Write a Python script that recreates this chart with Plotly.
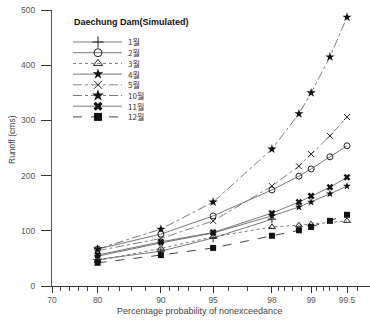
import plotly.graph_objects as go
from statistics import NormalDist

# ---------------- data ----------------
months = ["1월", "2월", "3월", "4월", "5월", "10월", "11월", "12월"]
p_full = [80, 90, 95, 98, 98.75, 99, 99.3, 99.5]
p_jan = [80, 90, 95, 98]
p_mar = [80, 90, 95, 98, 98.75, 99, 99.5]

runoff_jan = [48, 63, 87, 121]
runoff_feb = [67, 94, 127, 174, 199, 212, 234, 254]
runoff_mar = [46, 68, 89, 107, 110, 112, 118]
runoff_apr = [54, 78, 96, 127, 143, 152, 167, 181]
runoff_may = [64, 86, 118, 181, 217, 239, 272, 306]
runoff_oct = [67, 103, 152, 248, 312, 350, 415, 487]
runoff_nov = [56, 80, 97, 132, 152, 163, 179, 197]
runoff_dec = [42, 56, 69, 91, 101, 107, 118, 129]

x_ticks = [70, 80, 90, 95, 98, 99, 99.5]
x_tick_labels = ["70", "80", "90", "95", "98", "99", "99.5"]
x_minor = [72, 74, 76, 78, 82, 84, 86, 88, 91, 92, 93, 94, 96, 97,
           98.2, 98.4, 98.6, 98.8, 99.1, 99.2, 99.3, 99.4, 99.6, 99.7]
y_ticks = [0, 100, 200, 300, 400, 500]

title_text = "Daechung Dam(Simulated)"
x_title = "Percentage probability of nonexceedance"
y_title = "Runoff (cms)"

# normal probability scale
nd = NormalDist()
def z(p):
    return nd.inv_cdf(p / 100.0)

C = "#222"
series = [
    (months[0], p_jan, runoff_jan, dict(symbol="cross-thin-open", size=6, color=C, line=dict(width=1, color=C)), dict(dash="solid", width=0.8, color="#555")),
    (months[1], p_full, runoff_feb, dict(symbol="circle-open", size=6, color=C, line=dict(width=1, color=C)), dict(dash="solid", width=0.8, color="#555")),
    (months[2], p_mar, runoff_mar, dict(symbol="triangle-up-open", size=6, color=C, line=dict(width=1, color=C)), dict(dash="dot", width=0.8, color="#555")),
    (months[3], p_full, runoff_apr, dict(symbol="star", size=6, color="#111", line=dict(width=0)), dict(dash="solid", width=0.8, color="#555")),
    (months[4], p_full, runoff_may, dict(symbol="x-thin-open", size=6, color=C, line=dict(width=1, color=C)), dict(dash="dashdot", width=0.8, color="#666")),
    (months[5], p_full, runoff_oct, dict(symbol="star", size=7, color="#111", line=dict(width=0)), dict(dash="dashdot", width=0.8, color="#555")),
    (months[6], p_full, runoff_nov, dict(symbol="x", size=6, color="#111", line=dict(width=0)), dict(dash="solid", width=0.8, color="#555")),
    (months[7], p_full, runoff_dec, dict(symbol="square", size=6, color="#111", line=dict(width=0)), dict(dash="dash", width=1.0, color="#444")),
]

fig = go.Figure()
for name, px_, vals, mk, ln in series:
    fig.add_trace(go.Scatter(
        x=[z(p) for p in px_], y=vals, mode="lines+markers", name=name,
        marker=mk, line=ln, showlegend=False, cliponaxis=False,
    ))

W, H = 370, 320
ML, MR, MT, MB = 52, 0, 10, 34
PW, PH = W - ML - MR, H - MT - MB

def paper_x(px):
    return (px - ML) / PW

def paper_y(py):
    return 1 - (py - MT) / PH

# compact manual legend (overlay axis expressed in pixel units)
leg_y0, leg_dy = 42, 10.7
for i, (name, _, _, mk, ln) in enumerate(series):
    yy = leg_y0 + i * leg_dy
    mk2 = dict(mk)
    mk2["size"] = mk.get("size", 6) + 2
    fig.add_trace(go.Scatter(
        x=[73, 98, 122], y=[yy, yy, yy], mode="lines", line=ln,
        xaxis="x2", yaxis="y2", showlegend=False, hoverinfo="skip"))
    fig.add_trace(go.Scatter(
        x=[98], y=[yy], mode="markers", marker=mk2,
        xaxis="x2", yaxis="y2", showlegend=False, hoverinfo="skip"))
    fig.add_annotation(x=paper_x(126), y=paper_y(yy), xref="paper", yref="paper", text=name,
                       showarrow=False, xanchor="left", yanchor="middle",
                       font=dict(size=8, color="#333",
                                 family="Noto Sans CJK KR, Liberation Sans"))

fig.add_annotation(x=paper_x(72), y=paper_y(22), xref="paper", yref="paper",
                   text="<b>" + title_text + "</b>",
                   showarrow=False, xanchor="left", yanchor="middle",
                   font=dict(size=9, color="#111", family="Liberation Sans, Arial"))

fig.add_annotation(x=paper_x(200), y=paper_y(311), xref="paper", yref="paper", text=x_title,
                   showarrow=False, xanchor="center", yanchor="middle",
                   font=dict(size=9, color="#444", family="Liberation Sans, Arial"))
fig.add_annotation(x=paper_x(12), y=paper_y(140), xref="paper", yref="paper", text=y_title,
                   textangle=-90, showarrow=False, xanchor="center", yanchor="middle",
                   font=dict(size=8.5, color="#444", family="Liberation Sans, Arial"))

x0 = z(70)
scale = 295 / (z(99.5) - z(70))
x1 = x0 + PW / scale

fig.update_layout(
    width=W, height=H,
    margin=dict(l=ML, r=MR, t=MT, b=MB),
    paper_bgcolor="white", plot_bgcolor="white",
    font=dict(family="Liberation Sans, Arial", size=9, color="#444"),
    xaxis=dict(
        range=[x0, x1], tickmode="array",
        tickvals=[z(p) for p in x_ticks], ticktext=x_tick_labels,
        ticks="outside", ticklen=6, tickwidth=1, tickcolor="#333",
        showline=True, linecolor="#333", linewidth=1,
        showgrid=False, zeroline=False,
        tickfont=dict(size=8.5, color="#555"),
        minor=dict(tickmode="array", tickvals=[z(p) for p in x_minor],
                   ticks="outside", ticklen=4, tickcolor="#444", tickwidth=1,
                   showgrid=False),
    ),
    yaxis=dict(
        range=[0, 500], tickmode="array", tickvals=y_ticks,
        ticks="outside", ticklen=10, tickwidth=1, tickcolor="#333",
        showline=True, linecolor="#555", linewidth=1,
        showgrid=False, zeroline=False, ticklabelstandoff=4,
        tickfont=dict(size=8.5, color="#555"),
    ),
    xaxis2=dict(range=[ML, W - MR], domain=[0, 1], overlaying="x", anchor="y2",
                visible=False, fixedrange=True),
    yaxis2=dict(range=[H - MB, MT], domain=[0, 1], overlaying="y", anchor="x2",
                visible=False, fixedrange=True),
    showlegend=False,
)

fig.write_html("out.html", config={"displayModeBar": False},
               post_script="document.body.style.margin='0';document.body.style.overflow='hidden';")
